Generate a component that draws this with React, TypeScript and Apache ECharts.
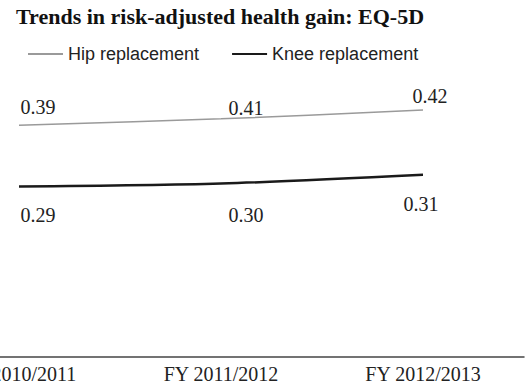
import React, { useEffect, useRef } from "react";
import * as echarts from "echarts";

const categories = ["FY 2010/2011", "FY 2011/2012", "FY 2012/2013"];
const hipValues = [0.394, 0.405, 0.42];
const kneeValues = [0.29, 0.295, 0.31];
const hipLabels = ["0.39", "0.41", "0.42"];
const kneeLabels = ["0.29", "0.30", "0.31"];
const seriesNames = ["Hip replacement", "Knee replacement"];

const hipOffsets = [[19, -18], [25, -11], [7, -14]];
const kneeOffsets = [[19, 29], [25, 31], [-2, 29]];

const SHIFT = 82;

const labelFont = {
  fontFamily: "Liberation Serif",
  fontSize: 20,
  color: "#222",
};

function makeData(values: number[], offsets: number[][]) {
  return values.map((v, i) => ({
    value: v,
    label: { offset: offsets[i] },
  }));
}

export default function App() {
  const ref = useRef<HTMLDivElement>(null);
  useEffect(() => {
    if (!ref.current) return;
    const chart = echarts.init(ref.current, undefined, { renderer: "svg" });
    chart.setOption({
      animation: false,
      backgroundColor: "#fff",
      title: {
        text: "Trends in risk-adjusted health gain: EQ-5D",
        left: 16 + SHIFT,
        top: 5,
        padding: 0,
        textStyle: {
          fontFamily: "Liberation Serif",
          fontWeight: "bold",
          fontSize: 22,
          color: "#111",
        },
      },
      legend: {
        left: 27 + SHIFT,
        top: 45,
        padding: 0,
        itemWidth: 35,
        itemHeight: 16,
        itemGap: 32,
        data: seriesNames,
        textStyle: {
          fontFamily: "Liberation Sans",
          fontSize: 18,
          color: "#222",
        },
      },
      grid: { left: 0, right: 4, top: 63, bottom: 35 },
      xAxis: {
        type: "category",
        data: categories,
        boundaryGap: true,
        axisLine: { lineStyle: { color: "#444", width: 1.5 } },
        axisTick: { show: false },
        axisLabel: { ...labelFont, margin: 7 },
      },
      yAxis: {
        type: "value",
        min: 0,
        max: 0.5,
        show: false,
        splitLine: { show: false },
      },
      series: [
        {
          name: seriesNames[0],
          type: "line",
          data: makeData(hipValues, hipOffsets),
          symbol: "circle",
          symbolSize: 1,
          itemStyle: { color: "rgba(0,0,0,0)" },
          lineStyle: { color: "#9a9a9a", width: 1.5 },
          smooth: 0.3,
          label: {
            show: true,
            position: "inside",
            ...labelFont,
            formatter: (p: any) => hipLabels[p.dataIndex],
          },
        },
        {
          name: seriesNames[1],
          type: "line",
          data: makeData(kneeValues, kneeOffsets),
          symbol: "circle",
          symbolSize: 1,
          itemStyle: { color: "rgba(0,0,0,0)" },
          lineStyle: { color: "#1a1a1a", width: 2.5 },
          smooth: 0.3,
          label: {
            show: true,
            position: "inside",
            ...labelFont,
            formatter: (p: any) => kneeLabels[p.dataIndex],
          },
        },
      ],
    });
    return () => chart.dispose();
  }, []);
  return (
    <div style={{ position: "fixed", left: 0, top: 0, width: 528, height: 392, overflow: "hidden" }}>
      <div
        ref={ref}
        style={{ position: "absolute", left: -SHIFT, top: 0, width: 528 + SHIFT, height: 392 }}
      />
    </div>
  );
}
